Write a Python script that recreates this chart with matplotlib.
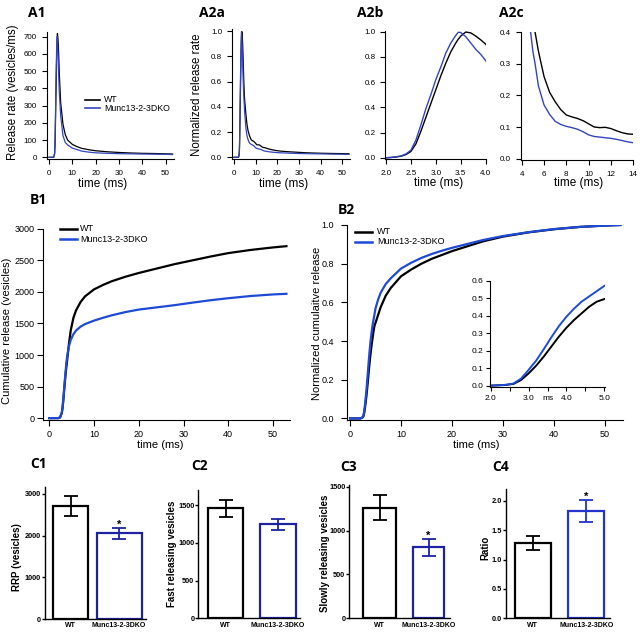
import matplotlib
matplotlib.use("Agg")
import matplotlib.pyplot as plt
from matplotlib.lines import Line2D
from matplotlib.ticker import FormatStrFormatter

plt.rcParams['font.family'] = ['Liberation Sans', 'DejaVu Sans']

# ---------------- data ----------------
# A1: release rate (vesicles/ms)
t_rate_a1 = [0, 2.0, 2.4, 2.6, 2.8, 3.0, 3.2, 3.4, 3.5, 3.6, 3.8, 4.0, 4.4, 5.0, 6, 7, 8,
             10, 12, 14, 17, 20, 25, 30, 35, 40, 45, 50, 53]
wt_rate = [0, 0, 20, 80, 230, 390, 540, 655, 695, 718, 695, 650, 490, 315, 190, 130, 100,
           75, 62, 52, 44, 38, 32, 28, 25, 23, 22, 20, 19]
ko_rate = [0, 0, 25, 100, 280, 440, 590, 680, 700, 690, 610, 540, 380, 240, 125, 85, 72,
           53, 45, 36, 30, 26, 23, 21, 20, 19, 18, 17, 16]

# A2: normalized release rate
t_norm = [0, 1.0, 2.0, 2.1, 2.2, 2.3, 2.4, 2.5, 2.6, 2.7, 2.8, 2.9, 3.0, 3.1, 3.2, 3.3, 3.4,
          3.45, 3.5, 3.6, 3.7, 3.8, 3.9, 4.0, 4.2, 4.4, 4.6, 4.8, 5.0, 5.2, 5.5, 6.0, 6.5,
          7.0, 7.5, 8.0, 8.5, 9.0, 9.5, 10.0, 10.5, 11.0, 11.5, 12.0, 12.5, 13.0, 13.5, 14.0,
          15, 16, 18, 20, 22, 25, 28, 30, 33, 36, 40, 43, 46, 50, 53]
wt_norm = [0, 0, 0, 0.002, 0.006, 0.012, 0.025, 0.05, 0.11, 0.21, 0.32, 0.43, 0.54, 0.65,
           0.75, 0.84, 0.91, 0.94, 0.965, 0.997, 0.99, 0.965, 0.935, 0.9, 0.8, 0.68, 0.57,
           0.49, 0.44, 0.4, 0.34, 0.26, 0.21, 0.18, 0.155, 0.138, 0.132, 0.127, 0.12, 0.11,
           0.1, 0.098, 0.099, 0.095, 0.088, 0.082, 0.078, 0.077, 0.072, 0.066, 0.058, 0.052,
           0.048, 0.044, 0.041, 0.039, 0.036, 0.034, 0.032, 0.031, 0.03, 0.029, 0.028]
ko_norm = [0, 0, 0, 0.002, 0.007, 0.014, 0.03, 0.06, 0.14, 0.26, 0.39, 0.5, 0.62, 0.72,
           0.83, 0.91, 0.97, 0.995, 0.993, 0.96, 0.91, 0.86, 0.82, 0.77, 0.64, 0.54, 0.46,
           0.4, 0.34, 0.3, 0.23, 0.17, 0.14, 0.118, 0.108, 0.102, 0.098, 0.093, 0.085, 0.075,
           0.07, 0.068, 0.066, 0.064, 0.061, 0.057, 0.053, 0.05, 0.047, 0.044, 0.04, 0.037,
           0.035, 0.033, 0.031, 0.03, 0.029, 0.028, 0.027, 0.026, 0.025, 0.024, 0.023]

# B1: cumulative release (vesicles)
t_cum = [0, 2.0, 2.4, 2.8, 3.0, 3.2, 3.4, 3.6, 3.8, 4.0, 4.4, 4.8, 5.4, 6, 7, 8, 10, 12, 14,
         17, 20, 24, 28, 32, 36, 40, 45, 50, 53]
wt_cum = [0, 0, 10, 80, 180, 330, 500, 660, 800, 920, 1180, 1390, 1590, 1710, 1840, 1930,
          2040, 2110, 2170, 2240, 2300, 2370, 2440, 2500, 2560, 2615, 2665, 2705, 2725]
ko_cum = [0, 0, 10, 85, 190, 350, 530, 700, 860, 980, 1140, 1240, 1330, 1390, 1450, 1490,
          1545, 1590, 1630, 1680, 1720, 1755, 1790, 1830, 1868, 1900, 1935, 1960, 1970]

# B2: normalized cumulative release
t_cumn = [0, 2.0, 2.2, 2.4, 2.6, 2.8, 3.0, 3.2, 3.4, 3.6, 3.8, 4.0, 4.2, 4.4, 4.6, 4.8, 5.0,
          5.5, 6, 7, 8, 10, 12, 14, 16, 18, 20, 23, 26, 30, 35, 40, 45, 50, 53]
wt_cumn = [0, 0.0, 0.002, 0.004, 0.01, 0.032, 0.07, 0.114, 0.166, 0.223, 0.28, 0.331, 0.375,
           0.413, 0.451, 0.48, 0.495, 0.535, 0.575, 0.635, 0.675, 0.735, 0.77, 0.8, 0.825,
           0.845, 0.865, 0.89, 0.915, 0.94, 0.962, 0.978, 0.99, 0.997, 1.0]
ko_cumn = [0, 0.0, 0.002, 0.005, 0.012, 0.04, 0.09, 0.143, 0.208, 0.276, 0.34, 0.394, 0.44,
           0.48, 0.51, 0.54, 0.57, 0.615, 0.65, 0.695, 0.725, 0.775, 0.805, 0.83, 0.85,
           0.867, 0.882, 0.902, 0.922, 0.943, 0.963, 0.979, 0.99, 0.997, 1.0]

# C: bar charts
groups = ['WT', 'Munc13-2-3DKO']
rrp_mean = [2710, 2055]
rrp_sem = [230, 140]
fast_mean = [1455, 1248]
fast_sem = [115, 72]
slow_mean = [1262, 810]
slow_sem = [142, 95]
ratio_mean = [1.285, 1.83]
ratio_sem = [0.12, 0.19]

# ---------------- figure ----------------
W, H = 640, 632
fig = plt.figure(figsize=(W / 100, H / 100), dpi=100)

BLUE_A = '#3444bd'
BLUE_B = '#1f4ad6'
BLUE_C = '#1c22a0'
BLUE_C4 = '#2234cc'


def ax_px(l, t, r, b):
    return fig.add_axes([l / W, 1 - b / H, (r - l) / W, (b - t) / H])


def ftext(x, y, s, **kw):
    return fig.text(x / W, 1 - y / H, s, **kw)


def style_line_ax(ax, fs, length=3.4, pad_x=4.5, pad_y=3.5, lw=0.8):
    for s in ['top', 'right']:
        ax.spines[s].set_visible(False)
    for s in ['left', 'bottom']:
        ax.spines[s].set_linewidth(lw)
    ax.tick_params(axis='both', direction='out', length=length, width=lw, labelsize=fs)
    ax.tick_params(axis='x', pad=pad_x)
    ax.tick_params(axis='y', pad=pad_y)
    ax.patch.set_alpha(0)


def title(x, y, s):
    ftext(x, y, s, ha='left', va='center', fontsize=10, fontweight='bold',
          family=['Open Sans', 'DejaVu Sans'])


def legend_manual(x0, x1, xt, ys, colors, labels, lw, fs):
    for y, c, lab in zip(ys, colors, labels):
        fig.add_artist(Line2D([x0 / W, x1 / W], [1 - y / H, 1 - y / H], color=c, lw=lw,
                              transform=fig.transFigure))
        ftext(xt, y, lab, fontsize=fs, va='center', ha='left')


# ---- A1 ----
ax = ax_px(46.7, 32.3, 173.7, 159.3)
ax.plot(t_rate_a1, wt_rate, color='black', lw=0.9)
ax.plot(t_rate_a1, ko_rate, color=BLUE_A, lw=0.9)
ax.set_xlim(-1, 53.5)
ax.set_ylim(-11.6, 725)
ax.set_xticks([0, 10, 20, 30, 40, 50])
ax.set_yticks(range(0, 701, 100))
style_line_ax(ax, 5.8)
title(28, 13, 'A1')
ftext(13, 92, 'Release rate (vesicles/ms)', rotation=90, ha='center', va='center', fontsize=8.3)
ftext(102.3, 184, 'time (ms)', ha='center', va='center', fontsize=8.5)
legend_manual(85, 100, 104, [100, 108.3], ['black', BLUE_A], groups, 1.2, 6.3)

# ---- A2a ----
ax = ax_px(231.8, 29.3, 350, 159.3)
ax.plot(t_norm, wt_norm, color='black', lw=0.9)
ax.plot(t_norm, ko_norm, color=BLUE_A, lw=0.9)
ax.set_xlim(-1, 53.5)
ax.set_ylim(-0.016, 1.015)
ax.set_xticks([0, 10, 20, 30, 40, 50])
ax.set_yticks([0, 0.2, 0.4, 0.6, 0.8, 1.0])
ax.yaxis.set_major_formatter(FormatStrFormatter('%.1f'))
style_line_ax(ax, 5.8)
title(199, 13, 'A2a')
ftext(197.5, 95, 'Normalized release rate', rotation=90, ha='center', va='center', fontsize=8.3)
ftext(283.5, 184, 'time (ms)', ha='center', va='center', fontsize=8.5)

# ---- A2b ----
ax = ax_px(385, 31, 485.7, 159)
ax.plot(t_norm, wt_norm, color='black', lw=1.0)
ax.plot(t_norm, ko_norm, color=BLUE_A, lw=1.0)
ax.set_xlim(1.98, 4.0)
ax.set_ylim(-0.01, 1.005)
ax.set_xticks([2.0, 2.5, 3.0, 3.5, 4.0])
ax.set_yticks([0, 0.2, 0.4, 0.6, 0.8, 1.0])
ax.xaxis.set_major_formatter(FormatStrFormatter('%.1f'))
ax.yaxis.set_major_formatter(FormatStrFormatter('%.1f'))
style_line_ax(ax, 5.8)
title(357, 13, 'A2b')
ftext(438.7, 183, 'time (ms)', ha='center', va='center', fontsize=8.5)

# ---- A2c ----
ax = ax_px(520.7, 32.3, 633.3, 160)
ax.plot(t_norm, wt_norm, color='black', lw=1.0)
ax.plot(t_norm, ko_norm, color=BLUE_A, lw=1.0)
ax.set_xlim(3.91, 14.0)
ax.set_ylim(-0.0045, 0.4)
ax.set_xticks([4, 6, 8, 10, 12, 14])
ax.set_yticks([0, 0.1, 0.2, 0.3, 0.4])
ax.yaxis.set_major_formatter(FormatStrFormatter('%.1f'))
style_line_ax(ax, 5.8)
title(499, 13, 'A2c')
ftext(578.7, 183, 'time (ms)', ha='center', va='center', fontsize=8.5)

# ---- B1 ----
ax = ax_px(43, 228.5, 290, 420)
ax.plot(t_cum, wt_cum, color='black', lw=1.6)
ax.plot(t_cum, ko_cum, color=BLUE_B, lw=1.6)
ax.set_xlim(-1.4, 53.8)
ax.set_ylim(-30, 3005)
ax.set_xticks([0, 10, 20, 30, 40, 50])
ax.set_yticks(range(0, 3001, 500))
style_line_ax(ax, 6.5, length=4, pad_x=3, pad_y=2)
title(30, 200, 'B1')
ftext(6.7, 330.8, 'Cumulative release (vesicles)', rotation=90, ha='center', va='center', fontsize=8)
ftext(160, 445, 'time (ms)', ha='center', va='center', fontsize=8)
legend_manual(60, 77, 80, [229, 239.3], ['black', BLUE_B], groups, 1.8, 6.5)

# ---- B2 ----
ax = ax_px(347, 225, 623.4, 420)
ax.plot(t_cumn, wt_cumn, color='black', lw=1.6)
ax.plot(t_cumn, ko_cumn, color=BLUE_B, lw=1.6)
ax.set_xlim(-0.6, 53.6)
ax.set_ylim(-0.008, 1.0)
ax.set_xticks([0, 10, 20, 30, 40, 50])
ax.set_yticks([0, 0.2, 0.4, 0.6, 0.8, 1.0])
ax.yaxis.set_major_formatter(FormatStrFormatter('%.1f'))
style_line_ax(ax, 6.5, length=4.5, pad_x=3, pad_y=5)
title(338, 209.5, 'B2')
ftext(316.7, 323, 'Normalized cumulaitve release', rotation=90, ha='center', va='center', fontsize=8)
ftext(476, 445, 'time (ms)', ha='center', va='center', fontsize=8)
legend_manual(355, 372, 377, [231.7, 241.7], ['black', BLUE_B], groups, 1.8, 6.5)

# inset
ax = ax_px(490, 280.7, 605, 386.7)
ax.plot(t_cumn, wt_cumn, color='black', lw=1.4)
ax.plot(t_cumn, ko_cumn, color=BLUE_B, lw=1.4)
ax.set_xlim(1.98, 5.02)
ax.set_ylim(-0.006, 0.6)
ax.set_xticks([2.0, 2.5, 3.0, 3.5, 4.0, 4.5, 5.0])
ax.set_xticklabels(['2.0', '', '3.0', 'ms', '4.0', '', '5.0'])
ax.set_yticks([0, 0.1, 0.2, 0.3, 0.4, 0.5, 0.6])
ax.yaxis.set_major_formatter(FormatStrFormatter('%.1f'))
style_line_ax(ax, 6, length=3, pad_x=3, pad_y=2)

# ---- C panels ----
def bar_panel(box, xlim, ylim, means, sems, widths, kocolor, yticks, yfmt, ylabel, lab_xy,
              ttl, ttl_xy, star):
    ax = ax_px(*box)
    colors = ['black', kocolor]
    for i in range(2):
        ax.bar(i, means[i], width=widths[i], facecolor='white', edgecolor=colors[i],
               linewidth=1.6, zorder=2)
        ax.errorbar(i, means[i], yerr=sems[i], color=colors[i], capsize=5, elinewidth=1.3,
                    capthick=1.3, zorder=3)
    if star:
        ax.text(1, means[1] + sems[1], '*', ha='center', va='baseline', fontsize=8,
                fontweight='bold')
    ax.set_xlim(*xlim)
    ax.set_ylim(*ylim)
    ax.set_yticks(yticks)
    if yfmt:
        ax.yaxis.set_major_formatter(FormatStrFormatter(yfmt))
    ax.set_xticks([0, 1])
    ax.set_xticklabels(groups, fontweight='bold', fontsize=5)
    for s in ['top', 'right']:
        ax.spines[s].set_visible(False)
    for s in ['left', 'bottom']:
        ax.spines[s].set_linewidth(1.0)
    ax.tick_params(axis='x', length=0, pad=2.5)
    ax.tick_params(axis='y', direction='out', length=2.5, width=1.0, pad=0.4, labelsize=5.3)
    for lb in ax.get_yticklabels():
        lb.set_fontweight('bold')
    ax.patch.set_alpha(0)
    ftext(lab_xy[0], lab_xy[1], ylabel, rotation=90, ha='center', va='center', fontsize=7,
          fontweight='bold')
    ftext(ttl_xy[0], ttl_xy[1], ttl, ha='left', va='center', fontsize=10, fontweight='bold',
          family=['Open Sans', 'DejaVu Sans'])


bar_panel((45, 486.7, 145.7, 619), (-0.53, 1.55), (0, 3175), rrp_mean, rrp_sem, [0.72, 0.93],
          BLUE_C, [0, 1000, 2000, 3000], None, 'RRP (vesicles)', (17.5, 557.5), 'C1', (30, 464), True)
bar_panel((198.3, 490, 300, 618.3), (-0.527, 1.421), (0, 1700), fast_mean, fast_sem, [0.67, 0.69],
          BLUE_C, [0, 500, 1000, 1500], None, 'Fast releasing vesicles', (171.7, 554), 'C2',
          (191.7, 466), False)
bar_panel((349.3, 485, 450, 618.3), (-0.623, 1.44), (0, 1520), slow_mean, slow_sem, [0.67, 0.65],
          BLUE_C, [0, 500, 1000, 1500], None, 'Slowly releasing vesicles', (324.5, 553), 'C3',
          (340, 467), True)
bar_panel((506, 489.3, 610, 618.3), (-0.5, 1.444), (0, 2.194), ratio_mean, ratio_sem, [0.67, 0.67],
          BLUE_C4, [0, 0.5, 1.0, 1.5, 2.0], '%.1f', 'Ratio', (485, 548), 'C4', (492.7, 467), True)

fig.savefig('out.png', dpi=100)
